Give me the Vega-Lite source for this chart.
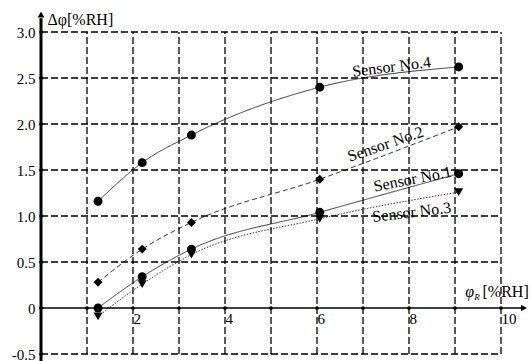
{
  "$schema": "https://vega.github.io/schema/vega-lite/v6.json",
  "width": 490,
  "height": 322,
  "autosize": {"type": "none"},
  "padding": {"left": 41, "top": 32, "right": 0, "bottom": 7},
  "background": "white",
  "config": {"view": {"stroke": null}, "font": "Liberation Serif"},
  "datasets": {
    "pts": [
      {"sensor": "Sensor No.1", "x": 1.24, "y": 0.0},
      {"sensor": "Sensor No.1", "x": 2.2, "y": 0.34},
      {"sensor": "Sensor No.1", "x": 3.27, "y": 0.64},
      {"sensor": "Sensor No.1", "x": 6.06, "y": 1.04},
      {"sensor": "Sensor No.1", "x": 9.08, "y": 1.46},
      {"sensor": "Sensor No.2", "x": 1.24, "y": 0.28},
      {"sensor": "Sensor No.2", "x": 2.2, "y": 0.64},
      {"sensor": "Sensor No.2", "x": 3.27, "y": 0.93},
      {"sensor": "Sensor No.2", "x": 6.06, "y": 1.4},
      {"sensor": "Sensor No.2", "x": 9.08, "y": 1.97},
      {"sensor": "Sensor No.3", "x": 1.24, "y": -0.09},
      {"sensor": "Sensor No.3", "x": 2.2, "y": 0.26},
      {"sensor": "Sensor No.3", "x": 3.27, "y": 0.58},
      {"sensor": "Sensor No.3", "x": 6.06, "y": 0.97},
      {"sensor": "Sensor No.3", "x": 9.08, "y": 1.26},
      {"sensor": "Sensor No.4", "x": 1.24, "y": 1.16},
      {"sensor": "Sensor No.4", "x": 2.2, "y": 1.58},
      {"sensor": "Sensor No.4", "x": 3.27, "y": 1.88},
      {"sensor": "Sensor No.4", "x": 6.06, "y": 2.4},
      {"sensor": "Sensor No.4", "x": 9.08, "y": 2.62}
    ],
    "hgrid": [{"y": -0.5}, {"y": 0.5}, {"y": 1.0}, {"y": 1.5}, {"y": 2.0}, {"y": 2.5}, {"y": 3.0}],
    "ydots": [{"y": -0.5}, {"y": 0}, {"y": 0.5}, {"y": 1.0}, {"y": 1.5}, {"y": 2.0}, {"y": 2.5}, {"y": 3.0}],
    "vgrid": [{"x": 1}, {"x": 2}, {"x": 3}, {"x": 4}, {"x": 5}, {"x": 6}, {"x": 7}, {"x": 8}, {"x": 9}, {"x": 10}],
    "notes": [
      {"text": "Sensor No.4", "x": 7.62, "y": 2.62},
      {"text": "Sensor No.2", "x": 7.49, "y": 1.78},
      {"text": "Sensor No.1", "x": 8.08, "y": 1.4},
      {"text": "Sensor No.3", "x": 8.06, "y": 1.04},
      {"text": "φ", "x": 9.32, "y": 0.125},
      {"text": "R", "x": 9.48, "y": 0.09}
    ],
    "one": [{"k": 1}]
  },
  "layer": [
    {
      "data": {"name": "pts"},
      "mark": {"type": "line", "interpolate": "monotone", "stroke": "#3a3a3a", "strokeWidth": 1},
      "encoding": {
        "x": {"field": "x", "type": "quantitative", "scale": {"domain": [0, 10.652], "nice": false, "zero": false},
          "axis": {"orient": "bottom", "offset": -46, "values": [2, 4, 6, 8, 10], "domain": false, "ticks": false, "grid": false,
            "labelAlign": "left", "labelBaseline": "top", "labelPadding": 3, "labelDx": 2, "labelFont": "Liberation Serif", "labelFontSize": 15, "labelColor": "black", "labelFlush": false,
            "title": "[%RH]", "titleFont": "Liberation Serif", "titleFontSize": 16, "titleFontWeight": "normal", "titleColor": "black", "titleX": 441, "titleY": -12, "titleAlign": "left", "titleBaseline": "alphabetic", "titleAngle": 0}},
        "y": {"field": "y", "type": "quantitative", "scale": {"domain": [-0.5, 3.0], "nice": false, "zero": false},
          "axis": {"orient": "left", "values": [-0.5, 0, 0.5, 1.0, 1.5, 2.0, 2.5, 3.0], "domain": false, "ticks": false, "grid": false,
            "labelExpr": "datum.value == 0 ? '0' : (datum.value < 0 ? '-' + format(-datum.value, '.1f') : format(datum.value, '.1f'))",
            "labelAlign": "right", "labelBaseline": "middle", "labelPadding": 6, "labelFont": "Liberation Serif", "labelFontSize": 15, "labelColor": "black", "labelFlush": false,
            "title": "Δφ[%RH]", "titleFont": "Liberation Serif", "titleFontSize": 16, "titleFontWeight": "normal", "titleColor": "black", "titleX": 6, "titleY": -8, "titleAlign": "left", "titleBaseline": "alphabetic", "titleAngle": 0}},
        "detail": {"field": "sensor"},
        "strokeDash": {"field": "sensor", "type": "nominal", "scale": {"domain": ["Sensor No.1", "Sensor No.2", "Sensor No.3", "Sensor No.4"], "range": [[1, 0], [5, 3], [1.5, 1.5], [1, 0]]}, "legend": null}
      }
    },
    {
      "data": {"name": "vgrid"},
      "mark": {"type": "rule", "stroke": "black", "strokeWidth": 1.3, "strokeDash": [7, 3]},
      "encoding": {
        "x": {"field": "x", "type": "quantitative"},
        "y": {"datum": -0.5},
        "y2": {"datum": 3.0}
      }
    },
    {
      "data": {"name": "hgrid"},
      "mark": {"type": "rule", "stroke": "black", "strokeWidth": 1.3, "strokeDash": [7, 3]},
      "encoding": {
        "y": {"field": "y", "type": "quantitative"},
        "x": {"datum": 0},
        "x2": {"datum": 10}
      }
    },
    {
      "data": {"name": "one"},
      "mark": {"type": "rule", "stroke": "black", "strokeWidth": 1.3},
      "encoding": {
        "y": {"datum": 0},
        "x": {"datum": 0},
        "x2": {"datum": 10.5}
      }
    },
    {
      "data": {"name": "one"},
      "mark": {"type": "rule", "stroke": "black", "strokeWidth": 3},
      "encoding": {
        "x": {"datum": 0},
        "y": {"datum": -0.58},
        "y2": {"datum": 3.15}
      }
    },
    {
      "data": {"name": "one"},
      "mark": {"type": "point", "shape": "triangle-right", "filled": true, "color": "black", "size": 45, "opacity": 1},
      "encoding": {
        "x": {"datum": 10.5},
        "y": {"datum": 0}
      }
    },
    {
      "data": {"name": "one"},
      "mark": {"type": "point", "shape": "triangle-up", "filled": true, "color": "black", "size": 45, "opacity": 1},
      "encoding": {
        "x": {"datum": 0},
        "y": {"datum": 3.19}
      }
    },
    {
      "data": {"name": "vgrid"},
      "mark": {"type": "point", "shape": "circle", "filled": true, "color": "black", "size": 14, "opacity": 1},
      "encoding": {
        "x": {"field": "x", "type": "quantitative"},
        "y": {"datum": 0}
      }
    },
    {
      "data": {"name": "ydots"},
      "mark": {"type": "point", "shape": "circle", "filled": true, "color": "black", "size": 14, "opacity": 1},
      "encoding": {
        "y": {"field": "y", "type": "quantitative"},
        "x": {"datum": 0}
      }
    },
    {
      "data": {"name": "pts"},
      "mark": {"type": "point", "filled": true, "color": "black", "opacity": 1, "size": 80},
      "encoding": {
        "x": {"field": "x", "type": "quantitative"},
        "y": {"field": "y", "type": "quantitative"},
        "shape": {"field": "sensor", "type": "nominal", "scale": {"domain": ["Sensor No.1", "Sensor No.2", "Sensor No.3", "Sensor No.4"], "range": ["circle", "diamond", "triangle-down", "circle"]}, "legend": null}
      }
    },
    {
      "data": {"name": "notes"},
      "transform": [{"filter": "datum.text == 'Sensor No.4'"}],
      "mark": {"type": "text", "font": "Liberation Serif", "fontSize": 16, "color": "black", "angle": -7, "align": "center", "baseline": "middle"},
      "encoding": {"x": {"field": "x", "type": "quantitative"}, "y": {"field": "y", "type": "quantitative"}, "text": {"field": "text"}}
    },
    {
      "data": {"name": "notes"},
      "transform": [{"filter": "datum.text == 'Sensor No.2'"}],
      "mark": {"type": "text", "font": "Liberation Serif", "fontSize": 16, "color": "black", "angle": -19, "align": "center", "baseline": "middle"},
      "encoding": {"x": {"field": "x", "type": "quantitative"}, "y": {"field": "y", "type": "quantitative"}, "text": {"field": "text"}}
    },
    {
      "data": {"name": "notes"},
      "transform": [{"filter": "datum.text == 'Sensor No.1'"}],
      "mark": {"type": "text", "font": "Liberation Serif", "fontSize": 16, "color": "black", "angle": -11, "align": "center", "baseline": "middle"},
      "encoding": {"x": {"field": "x", "type": "quantitative"}, "y": {"field": "y", "type": "quantitative"}, "text": {"field": "text"}}
    },
    {
      "data": {"name": "notes"},
      "transform": [{"filter": "datum.text == 'Sensor No.3'"}],
      "mark": {"type": "text", "font": "Liberation Serif", "fontSize": 16, "color": "black", "angle": -7, "align": "center", "baseline": "middle"},
      "encoding": {"x": {"field": "x", "type": "quantitative"}, "y": {"field": "y", "type": "quantitative"}, "text": {"field": "text"}}
    },
    {
      "data": {"name": "notes"},
      "transform": [{"filter": "datum.text == 'φ'"}],
      "mark": {"type": "text", "font": "Liberation Serif", "fontSize": 16, "fontStyle": "italic", "color": "black", "align": "center", "baseline": "alphabetic"},
      "encoding": {"x": {"field": "x", "type": "quantitative"}, "y": {"field": "y", "type": "quantitative"}, "text": {"field": "text"}}
    },
    {
      "data": {"name": "notes"},
      "transform": [{"filter": "datum.text == 'R'"}],
      "mark": {"type": "text", "font": "Liberation Serif", "fontSize": 9, "fontStyle": "italic", "color": "black", "align": "center", "baseline": "alphabetic"},
      "encoding": {"x": {"field": "x", "type": "quantitative"}, "y": {"field": "y", "type": "quantitative"}, "text": {"field": "text"}}
    }
  ]
}
